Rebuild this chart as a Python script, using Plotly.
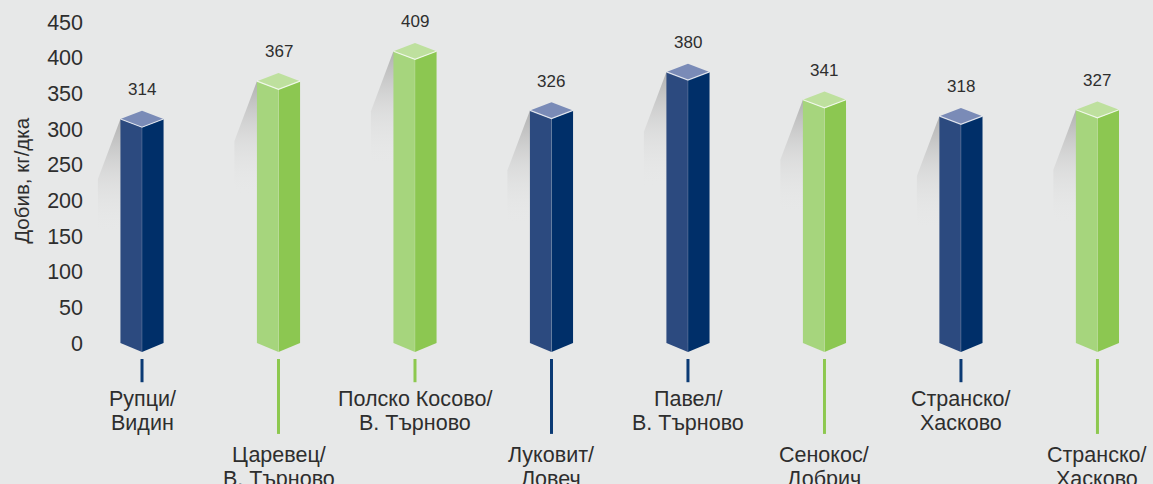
import plotly.graph_objects as go

# ─── Data ─────────────────────────────────────────────────────────────────────
categories = ["Рупци/<br>Видин", "Царевец/<br>В. Търново", "Полско Косово/<br>В. Търново",
              "Луковит/<br>Ловеч", "Павел/<br>В. Търново", "Сенокос/<br>Добрич",
              "Странско/<br>Хасково", "Странско/<br>Хасково"]
yields = [314, 367, 409, 326, 380, 341, 318, 327]
groups = ["blue", "green", "green", "blue", "blue", "green", "blue", "green"]
y_ticks = [0, 50, 100, 150, 200, 250, 300, 350, 400, 450]

# ─── Theme ────────────────────────────────────────────────────────────────────
BG = "#e7e8e8"
TEXT_CLR = "#2e2e2e"
PALETTE = {
    "blue":  dict(left="#2c4a7f", right="#002f69", top="#7a8bb7", stem="#0b3a74"),
    "green": dict(left="#a6d57d", right="#8cc751", top="#bee09e", stem="#8dc84f"),
}
HW = 0.158      # half column width (x units)
DEPTH = 11.5    # iso cap depth (y units)
LINE_GAP = 34.0  # label line spacing (y units)

fig = go.Figure()

# shadows behind columns
for i, v in enumerate(yields):
    x0 = i - HW
    fig.add_trace(go.Scatter(
        x=[x0, x0 - 0.165, x0 - 0.165, x0 + 0.03, x0 + 0.03, x0],
        y=[v, v - 84, v - 160, v - 160, v, v],
        mode="lines", fill="toself", line=dict(width=0),
        fillgradient=dict(type="vertical", colorscale=[
            [0, "rgba(231,232,232,0)"], [0.5, "rgba(205,205,205,0.45)"],
            [1, "rgba(170,170,170,0.9)"]]),
        hoverinfo="skip", showlegend=False,
    ))

# column faces
for i, (v, g) in enumerate(zip(yields, groups)):
    c = PALETTE[g]
    faces = [
        ([i - HW, i, i, i - HW, i - HW], [v, v - DEPTH, -DEPTH - 1, 0, v], c["left"]),
        ([i, i + HW, i + HW, i, i], [v - DEPTH, v, 0, -DEPTH - 1, v - DEPTH], c["right"]),
        ([i - HW, i, i + HW, i, i - HW], [v, v + DEPTH, v, v - DEPTH, v], c["top"]),
    ]
    for fx, fy, col in faces:
        fig.add_trace(go.Scatter(
            x=fx, y=fy, mode="lines", fill="toself", fillcolor=col,
            line=dict(width=0, color=col), hoverinfo="skip", showlegend=False,
        ))
    # light edges
    fig.add_trace(go.Scatter(
        x=[i - HW, i, i + HW], y=[v, v - DEPTH, v], mode="lines",
        line=dict(color="rgba(255,255,255,0.75)", width=1.2),
        hoverinfo="skip", showlegend=False,
    ))
    fig.add_trace(go.Scatter(
        x=[i, i], y=[v - DEPTH, -DEPTH - 1], mode="lines",
        line=dict(color="rgba(255,255,255,0.18)", width=1),
        hoverinfo="skip", showlegend=False,
    ))
    # stems to labels
    low = i % 2 == 1
    fig.add_trace(go.Scatter(
        x=[i, i], y=[-22.5, -127.5 if low else -55], mode="lines",
        line=dict(color=c["stem"], width=3), hoverinfo="skip", showlegend=False,
    ))
    y_first = -157 if low else -78.5
    for k, line in enumerate(categories[i].split("<br>")):
        fig.add_annotation(x=i, y=y_first - k * LINE_GAP, text=line,
                           showarrow=False, yanchor="middle", xanchor="center",
                           font=dict(size=21.5, color=TEXT_CLR))
    fig.add_annotation(x=i, y=v + 41, text=str(v), showarrow=False,
                       yanchor="middle", font=dict(size=17, color=TEXT_CLR))

fig.add_annotation(text="Добив, кг/дка", xref="paper", x=-0.0585, y=228,
                   textangle=-90, showarrow=False, xanchor="center", yanchor="middle",
                   font=dict(size=20.5, color=TEXT_CLR))

fig.update_layout(
    width=1153, height=484,
    paper_bgcolor=BG, plot_bgcolor=BG,
    font=dict(family="Arial, Liberation Sans", color=TEXT_CLR),
    margin=dict(l=84, r=0, t=0, b=0),
    xaxis=dict(range=[-0.425, 7.407], visible=False, fixedrange=True),
    yaxis=dict(range=[-197.7, 480.8], tickvals=y_ticks, showgrid=False,
               zeroline=False, showline=False, ticks="",
               tickfont=dict(size=21.5, color=TEXT_CLR), fixedrange=True),
    showlegend=False,
)

fig.write_html("out.html", config={"displayModeBar": False},
               post_script="document.body.style.margin='0';")
